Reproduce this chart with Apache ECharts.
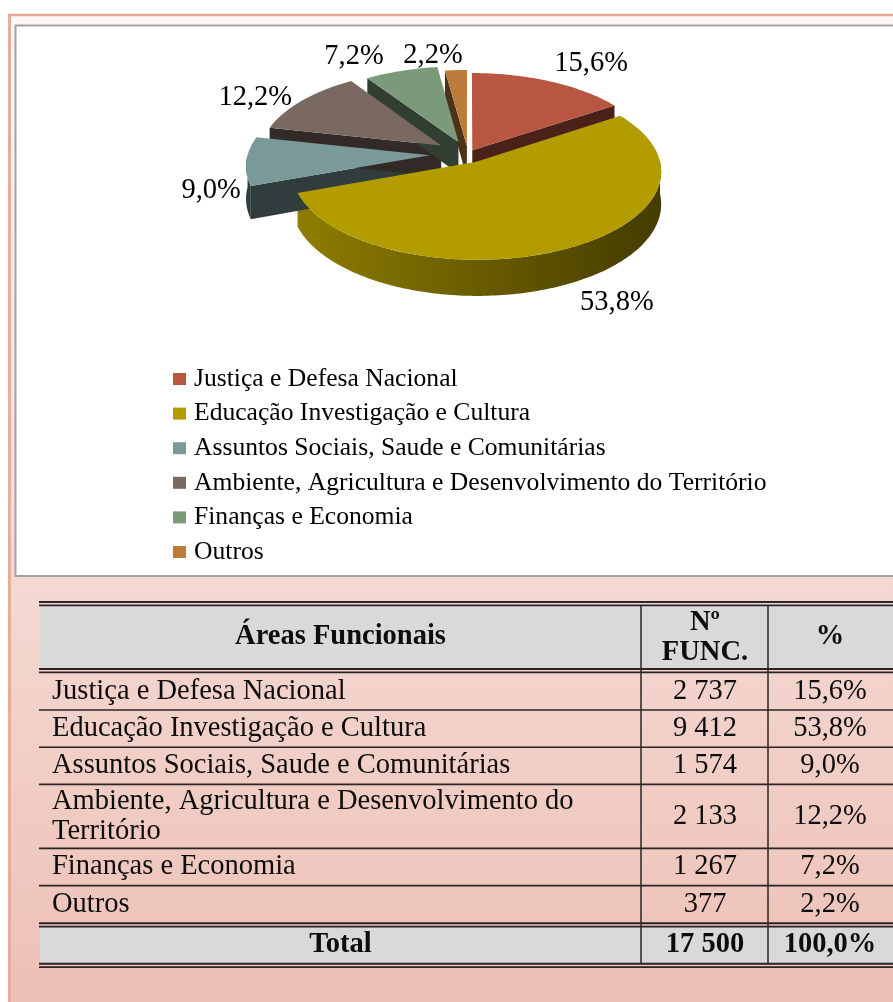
<!DOCTYPE html>
<html>
<head>
<meta charset="utf-8">
<script src="https://cdn.jsdelivr.net/npm/echarts@6/dist/echarts.min.js"></script>
<style>
  html, body { margin: 0; padding: 0; background: #fff; }
  #chart { width: 893px; height: 1002px; }
</style>
</head>
<body>
<div id="chart"></div>
<script>
// ---- data ----
const categories = [
  'Justiça e Defesa Nacional',
  'Educação Investigação e Cultura',
  'Assuntos Sociais, Saude e Comunitárias',
  'Ambiente, Agricultura e Desenvolvimento do Território',
  'Finanças e Economia',
  'Outros'
];
const staffCounts = [2737, 9412, 1574, 2133, 1267, 377];
const columnTitles = ['Áreas Funcionais', 'Nº\nFUNC.', '%'];
const totalLabel = 'Total';

// ---- styles ----
const sliceColors = ['#B85641', '#B29C00', '#7A9999', '#7A6961', '#7A9A7B', '#BC7C3C'];
const sliceExplode = [0.05, 0.10, 0.21, 0.18, 0.15, 0.09];
const labelNudge = [[2, -5], [8, 5], [0, -4], [-6, 5], [-16, -1], [7, -1]];
const SERIF = 'Liberation Serif';
const PIE = { cx: 468, cy: 154, rx: 182, ry: 86, depth: 32, persp: 0.105 };

const total = staffCounts.reduce((a, b) => a + b, 0);
const sliceStart = [];
(function () {
  let acc = 0;
  staffCounts.forEach(v => { sliceStart.push(acc / total * 2 * Math.PI); acc += v; });
})();

const fmtPct = v => (v / total * 100).toFixed(1).replace('.', ',') + '%';
const fmtInt = v => String(v).replace(/\B(?=(\d{3})+(?!\d))/g, ' ');

function shade(hex, f) {
  const n = parseInt(hex.slice(1), 16);
  const r = Math.round(((n >> 16) & 255) * f);
  const g = Math.round(((n >> 8) & 255) * f);
  const b = Math.round((n & 255) * f);
  return 'rgb(' + r + ',' + g + ',' + b + ')';
}

// perspective projection of a point on the pie disc (x right, z away from viewer)
function proj(x, z, down) {
  const s = 1 / (1 + PIE.persp * z);
  return [PIE.cx + PIE.rx * x * s, PIE.cy - PIE.ry * z * s + PIE.depth * down * s];
}
function arc(ox, oz, from, to, down) {
  const n = Math.max(2, Math.ceil(Math.abs(to - from) / (Math.PI / 180)));
  const pts = [];
  for (let k = 0; k <= n; k++) {
    const t = from + (to - from) * k / n;
    pts.push(proj(ox + Math.sin(t), oz + Math.cos(t), down));
  }
  return pts;
}

function makeSliceRenderer(i) {
  return function (params, api) {
    const value = api.value(0);
    const a0 = sliceStart[i];
    const a1 = a0 + value / total * 2 * Math.PI;
    const mid = (a0 + a1) / 2;
    const sm = Math.sin(mid), cm = Math.cos(mid);
    const e = sliceExplode[i];
    const ox = e * sm, oz = e * cm;
    const color = sliceColors[i];
    const dark = shade(color, 0.4);
    const children = [];

    // rim wall on the near half
    const lo = Math.max(a0, Math.PI / 2), hi = Math.min(a1, 1.5 * Math.PI);
    if (hi > lo) {
      const pts = arc(ox, oz, lo, hi, 0).concat(arc(ox, oz, hi, lo, 1));
      const fill = (hi - lo) > Math.PI / 3
        ? new echarts.graphic.LinearGradient(0, 0, 1, 0, [
            { offset: 0, color: shade(color, 0.8) },
            { offset: 1, color: shade(color, 0.38) }
          ])
        : dark;
      children.push({ type: 'polygon', shape: { points: pts }, style: { fill: fill }, z2: 1 });
    }
    // cut faces that turn toward the viewer
    function face(t) {
      const c0 = proj(ox, oz, 0), c1 = proj(ox, oz, 1);
      const r0 = proj(ox + Math.sin(t), oz + Math.cos(t), 0);
      const r1 = proj(ox + Math.sin(t), oz + Math.cos(t), 1);
      return { type: 'polygon', shape: { points: [c0, r0, r1, c1] }, style: { fill: dark }, z2: 2 };
    }
    if (Math.sin(a0) < -1e-6) children.push(face(a0));
    if (Math.sin(a1) > 1e-6) children.push(face(a1));

    // top face
    const top = [proj(ox, oz, 0)].concat(arc(ox, oz, a0, a1, 0));
    children.push({ type: 'polygon', shape: { points: top }, style: { fill: color }, z2: 10 });

    // percentage label
    const rl = 1 + e + 0.03;
    const p = proj(sm * rl, cm * rl, cm < 0 ? 1 : 0);
    const align = sm > 0.05 ? 'left' : (sm < -0.05 ? 'right' : 'center');
    children.push({
      type: 'text', z2: 20,
      style: {
        text: fmtPct(value),
        x: p[0] + labelNudge[i][0], y: p[1] - cm * 12 + labelNudge[i][1],
        font: '28.5px "' + SERIF + '"', fill: '#000',
        align: align, verticalAlign: 'middle',
        textAlign: align, textVerticalAlign: 'middle'
      }
    });
    return { type: 'group', children: children };
  };
}

// ---- page frame and table drawn as graphic elements ----
const measureCtx = document.createElement('canvas').getContext('2d');
function textWidth(str, font) { measureCtx.font = font; return measureCtx.measureText(str).width; }

const graphics = [];
const LINE = '#2B2424';
const TABLE_FONT = 28.5;
function txt(text, x, y, opts) {
  const o = opts || {};
  const align = o.align || 'left';
  graphics.push({
    type: 'text', z: 1, z2: 5,
    style: Object.assign({
      text: text, x: x, y: y,
      font: (o.bold ? 'bold ' : '') + TABLE_FONT + 'px "' + SERIF + '"',
      fill: '#0D0D0D', align: align, verticalAlign: 'middle',
      textAlign: align, textVerticalAlign: 'middle', lineHeight: 30
    }, o.extra || {})
  });
}
function hline(y, w) {
  graphics.push({ type: 'line', z: 1, z2: 4,
    shape: { x1: 39, y1: y, x2: 900, y2: y },
    style: { stroke: LINE, lineWidth: w } });
}
function doubleLine(y) { hline(y + 1, 2); hline(y + 4.4, 1.7); }

// background
graphics.push({ type: 'rect', z: 0, z2: 0, shape: { x: 0, y: 0, width: 893, height: 1002 }, style: { fill: '#ffffff' } });
graphics.push({ type: 'rect', z: 0, z2: 1, shape: { x: 9, y: 14, width: 900, height: 1000 },
  style: { fill: new echarts.graphic.LinearGradient(0, 0, 0, 1, [
    { offset: 0, color: '#FEF7F5' }, { offset: 0.55, color: '#F4DAD4' }, { offset: 1, color: '#EDBFB4' }
  ]) } });
graphics.push({ type: 'line', z: 0, z2: 2, shape: { x1: 8, y1: 15, x2: 900, y2: 15 }, style: { stroke: '#E8A696', lineWidth: 2.5 } });
graphics.push({ type: 'line', z: 0, z2: 2, shape: { x1: 9.5, y1: 14, x2: 9.5, y2: 1002 }, style: { stroke: '#ECAC9C', lineWidth: 3 } });
graphics.push({ type: 'rect', z: 0, z2: 3, shape: { x: 15.5, y: 25.5, width: 900, height: 550.5 },
  style: { fill: '#ffffff', stroke: '#A2A2A2', lineWidth: 2 } });

// table
const COLX = [40, 641, 768, 895];
const labelFont = TABLE_FONT + 'px "' + SERIF + '"';
const labelMax = COLX[1] - 52 - 6;
let y = 601;
doubleLine(y);
const headTop = y + 5, headBot = headTop + 62;
graphics.push({ type: 'rect', z: 1, z2: 1, shape: { x: 40, y: headTop, width: 860, height: headBot - headTop }, style: { fill: '#D9D9D9' } });
txt(columnTitles[0], (COLX[0] + COLX[1]) / 2, (headTop + headBot) / 2, { bold: true, align: 'center' });
txt(columnTitles[1], (COLX[1] + COLX[2]) / 2 + 0.5, (headTop + headBot) / 2 + 1, { bold: true, align: 'center' });
txt(columnTitles[2], 830, (headTop + headBot) / 2, { bold: true, align: 'center' });
doubleLine(headBot);
y = headBot + 4.8;
categories.forEach((name, i) => {
  const lines = textWidth(name, labelFont) > labelMax ? 2 : 1;
  const h = lines === 2 ? 64 : 37.2;
  const cy = y + h / 2;
  txt(name, 52, cy, { extra: { width: labelMax, overflow: 'break' } });
  txt(fmtInt(staffCounts[i]), (COLX[1] + COLX[2]) / 2 + 0.5, cy, { align: 'center' });
  txt(fmtPct(staffCounts[i]), 830, cy, { align: 'center' });
  y += h;
  if (i < categories.length - 1) hline(y, 1.6);
});
doubleLine(y - 0.5);
const totTop = y + 4.5, totBot = totTop + 35.5;
graphics.push({ type: 'rect', z: 1, z2: 1, shape: { x: 40, y: totTop, width: 860, height: totBot - totTop }, style: { fill: '#D9D9D9' } });
txt(totalLabel, (COLX[0] + COLX[1]) / 2, (totTop + totBot) / 2, { bold: true, align: 'center' });
txt(fmtInt(total), (COLX[1] + COLX[2]) / 2 + 0.5, (totTop + totBot) / 2, { bold: true, align: 'center' });
txt(fmtPct(total), 830, (totTop + totBot) / 2, { bold: true, align: 'center' });
doubleLine(totBot);
[COLX[1], COLX[2]].forEach(x => {
  graphics.push({ type: 'line', z: 1, z2: 3, shape: { x1: x, y1: headTop, x2: x, y2: totBot + 1 }, style: { stroke: LINE, lineWidth: 1.5 } });
});

const chart = echarts.init(document.getElementById('chart'), null, { renderer: 'canvas', width: 893, height: 1002 });
chart.setOption({
  animation: false,
  graphic: { elements: graphics },
  legend: {
    orient: 'vertical', left: 168, top: 361,
    icon: 'rect', itemWidth: 13, itemHeight: 12, itemGap: 8.6,
    selectedMode: false,
    textStyle: { fontFamily: SERIF, fontSize: 25.6, color: '#000', lineHeight: 25.6, padding: [0, 0, 0, 3] },
    data: categories
  },
  series: categories.map((name, i) => ({
    type: 'custom', name: name, coordinateSystem: 'none', silent: true, z: 2,
    itemStyle: { color: sliceColors[i] },
    data: [[staffCounts[i]]],
    renderItem: makeSliceRenderer(i)
  }))
});
</script>
</body>
</html>
